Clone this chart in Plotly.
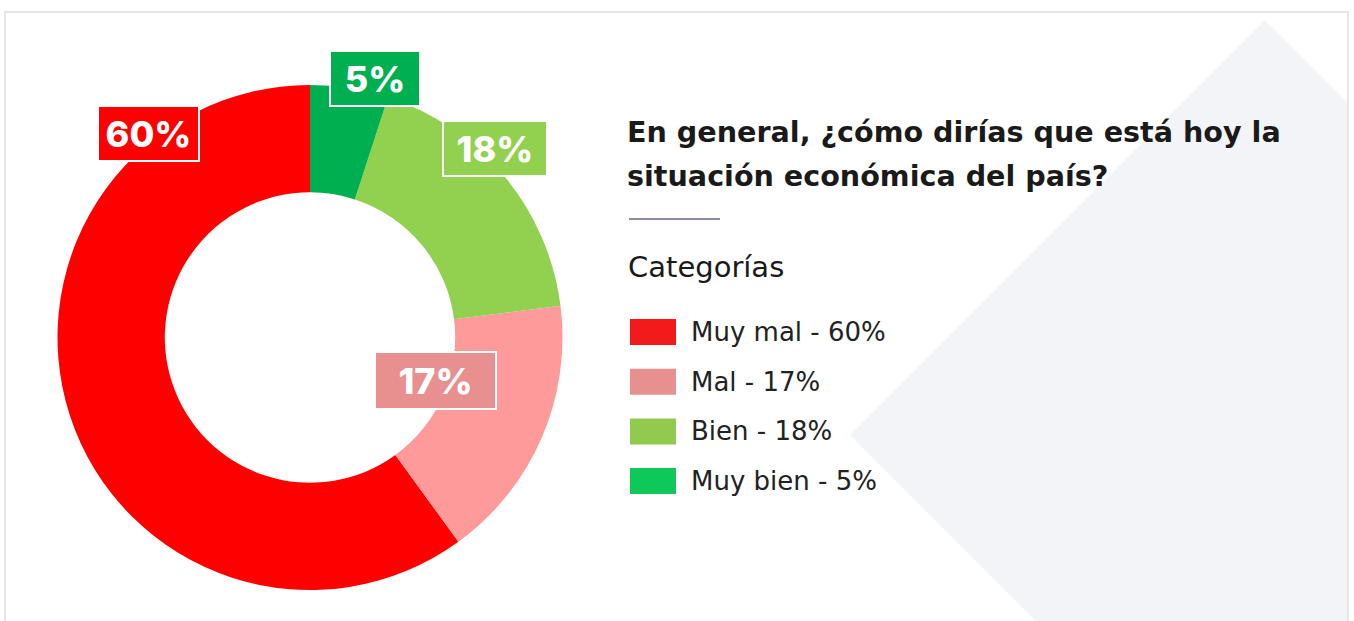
import plotly.graph_objects as go

# ---- data ----
categories = ["Muy mal", "Mal", "Bien", "Muy bien"]
values = [60, 17, 18, 5]
slice_colors = ["#FF0000", "#FF9A9A", "#92D050", "#00B050"]
label_colors = ["#FF0000", "#E88F8F", "#92D050", "#00B050"]
legend_colors = ["#F21A1A", "#E88F8F", "#92C94F", "#0FC85A"]
title_lines = ["En general, ¿cómo dirías que está hoy la", "situación económica del país?"]
legend_title = "Categorías"

# ---- layout constants (pixels) ----
W, H = 1354, 621
CX, CY, R = 310, 337.5, 252.5
HOLE = 0.575
LABEL_FONT = "Inter"
TEXT_FONT = "DejaVu Sans"

def px(x):
    return x / W

def py(y):
    return 1 - y / H

# label box centres and sizes (pixels)
label_pos = [(148.5, 133.5, 103, 57), (435.5, 381, 123, 59), (495, 148.5, 106, 57), (375, 78.5, 92, 57)]

total = sum(values)
fig = go.Figure()
fig.add_trace(go.Pie(
    labels=categories,
    values=values,
    sort=False,
    direction="counterclockwise",
    # first slice starts at 12 o'clock and runs counter-clockwise
    rotation=-360 * values[0] / total,
    hole=HOLE,
    marker=dict(colors=slice_colors, line=dict(width=0)),
    textinfo="none",
    hoverinfo="label+percent",
    domain=dict(x=[px(CX - R), px(CX + R)], y=[py(CY + R), py(CY - R)]),
))

shapes = []
# decorative background diamond
shapes.append(dict(
    type="path", xref="paper", yref="paper", layer="below",
    path=(f"M {px(1265)} {py(20)} L {px(1347)} {py(102)} L {px(1347)} {py(700)} "
          f"L {px(1115)} {py(700)} L {px(850)} {py(435)} Z"),
    fillcolor="#F3F4F7", line=dict(width=0),
))
# frame
shapes.append(dict(
    type="rect", xref="paper", yref="paper", layer="below",
    x0=px(5), x1=px(1348), y0=py(12), y1=py(700),
    line=dict(color="#E6E6E6", width=2), fillcolor="rgba(0,0,0,0)",
))
# divider line
shapes.append(dict(
    type="line", xref="paper", yref="paper",
    x0=px(629), x1=px(720), y0=py(219), y1=py(219),
    line=dict(color="#6E5F8E", width=1.5),
))

annotations = []
# data labels
for cat, v, col, (lx, ly, bw, bh) in zip(categories, values, label_colors, label_pos):
    annotations.append(dict(
        xref="paper", yref="paper", x=px(lx), y=py(ly),
        xanchor="center", yanchor="middle", showarrow=False,
        text=f"{v}%", width=bw - 4, height=bh - 4,
        bgcolor=col, bordercolor="#FFFFFF", borderwidth=2, borderpad=0,
        font=dict(family=LABEL_FONT, size=36, color="#FFFFFF", weight=800),
    ))

# title
for i, line in enumerate(title_lines):
    annotations.append(dict(
        xref="paper", yref="paper", x=px(625), y=py(132 + 44.5 * i),
        xanchor="left", yanchor="middle", showarrow=False, text=line,
        font=dict(family=TEXT_FONT, size=28.6, color="#1A1A1A", weight=700),
    ))

annotations.append(dict(
    xref="paper", yref="paper", x=px(626), y=py(267),
    xanchor="left", yanchor="middle", showarrow=False, text=legend_title,
    font=dict(family=TEXT_FONT, size=29, color="#1A1A1A", weight=400),
))

# legend
for i, (cat, v, col) in enumerate(zip(categories, values, legend_colors)):
    y0 = 319 + 49.7 * i
    shapes.append(dict(
        type="rect", xref="paper", yref="paper",
        x0=px(630), x1=px(676), y0=py(y0), y1=py(y0 + 26),
        fillcolor=col, line=dict(width=0),
    ))
    annotations.append(dict(
        xref="paper", yref="paper", x=px(689), y=py(y0 + 13),
        xanchor="left", yanchor="middle", showarrow=False,
        text=f"{cat} - {v}%",
        font=dict(family=TEXT_FONT, size=26, color="#222222", weight=400),
    ))

fig.update_layout(
    width=W, height=H,
    margin=dict(l=0, r=0, t=0, b=0),
    paper_bgcolor="#FFFFFF", plot_bgcolor="#FFFFFF",
    showlegend=False,
    shapes=shapes,
    annotations=annotations,
)

fig.write_html("out.html", config={"displayModeBar": False},
               post_script="document.body.style.margin='0';")
